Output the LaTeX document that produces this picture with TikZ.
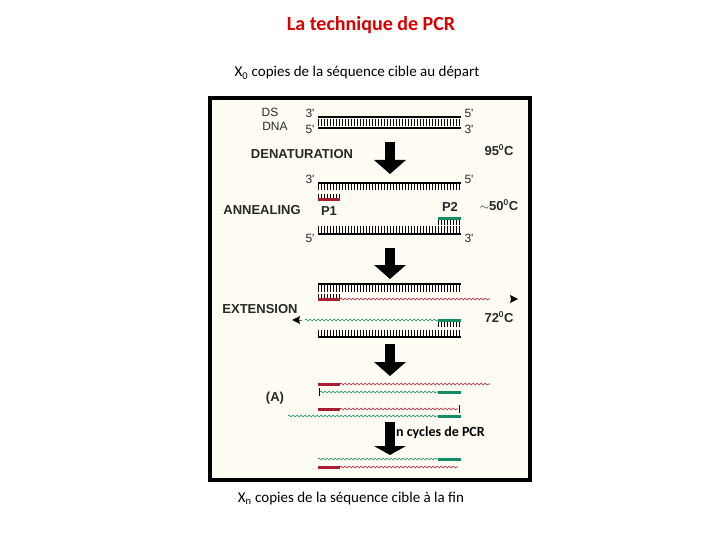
\documentclass[tikz,border=0pt]{standalone}
\usepackage{fontspec}
\setmainfont{Carlito}
\newfontfamily\arialf{Liberation Sans}
\usetikzlibrary{decorations.pathmorphing}
\definecolor{pred}{RGB}{170,30,50}
\definecolor{pgreen}{RGB}{20,140,100}
\definecolor{cream}{RGB}{255,253,243}
\definecolor{ink}{RGB}{40,40,40}
\tikzset{
 lab/.style={font=\arialf\bfseries\fontsize{13}{14}\selectfont, text=ink, inner sep=0pt},
 end/.style={font=\arialf\fontsize{12}{13}\selectfont, text=ink, inner sep=0pt},
 strand/.style={line width=1.6pt, black},
 ticks/.style={line width=7pt, dash pattern=on 1pt off 2pt, black},
 pticks/.style={line width=5pt, dash pattern=on 1pt off 2pt, black},
 rbar/.style={line width=3pt, pred},
 gbar/.style={line width=3pt, pgreen},
 rwave/.style={pred, line width=0.6pt, decorate, decoration={snake, amplitude=1pt, segment length=4pt}},
 gwave/.style={pgreen, line width=0.6pt, decorate, decoration={snake, amplitude=1pt, segment length=4pt}},
 txt/.style={font=\fontsize{15}{17}\selectfont, inner sep=0pt}
}
\newcommand{\downarrowat}[2]{%
 \fill (385,#1) rectangle (395,#2);
 \fill (374,#2) -- (406,#2) -- (390,#2+14) -- cycle;}
\begin{document}
\begin{tikzpicture}[x=1pt,y=-1pt]
\useasboundingbox (0,0) rectangle (720,540);
\fill[white] (0,0) rectangle (720,540);
\node[txt, text=red!85!black, font=\bfseries\fontsize{20}{22}\selectfont] (title) at (371,25) {La technique de PCR};
\node[txt] (top) at (357,73) {X\textsubscript{0} copies de la séquence cible au départ};
\node[txt] (bot) at (351,498) {X\textsubscript{n} copies de la séquence cible à la fin};
\draw[line width=4pt, fill=cream] (210,98) rectangle (530,480);
% DS DNA
\node[end] (ds) at (270,112) {DS};
\node[end] (dna) at (275,126) {DNA};
\node[end] at (310,113) {3'}; \node[end] at (469,113) {5'};
\node[end] at (310,129) {5'}; \node[end] at (469,129) {3'};
\draw[strand] (318,117) -- (461,117);
\draw[ticks] (318,122.5) -- (461,122.5);
\draw[strand] (318,128) -- (461,128);
% arrow 1
\downarrowat{142}{160}
\node[lab] at (302,154) {DENATURATION};
\node[lab] at (499,150) {95$^{\mathbf 0}$C};
% annealing
\node[end] at (310,179) {3'}; \node[end] at (469,179) {5'};
\draw[strand] (318,183) -- (461,183);
\draw[ticks] (318,187) -- (461,187);
\draw[pticks] (318,196.5) -- (340,196.5);
\draw[rbar] (318,200) -- (340,200);
\node[lab] at (262,210) {ANNEALING};
\node[lab] at (329,211) {P1};
\node[lab] at (450,207) {P2};
\node[lab] at (499,205) {$\sim$50$^{\mathbf 0}$C};
\draw[gbar] (438,219) -- (461,219);
\draw[pticks] (438,222.5) -- (461,222.5);
\draw[ticks] (318,230) -- (461,230);
\draw[strand] (318,234) -- (461,234);
\node[end] at (310,238) {5'}; \node[end] at (469,238) {3'};
% arrow 2
\downarrowat{248}{265}
% extension
\draw[strand] (318,284) -- (461,284);
\draw[ticks] (318,288) -- (461,288);
\draw[pticks] (318,296) -- (340,296);
\draw[rbar] (318,299) -- (340,299);
\draw[rwave] (340,299) -- (490,299);
\fill (518,299) -- (510,295) -- (511,299) -- (510,303) -- cycle;
\node[lab] at (260,309) {EXTENSION};
\draw[gwave] (305,320) -- (438,320);
\draw[gbar] (438,320) -- (461,320);
\draw[pgreen, line width=0.6pt] (296,320) -- (302,320);
\fill (292,320) -- (300,316) -- (299,320) -- (300,324) -- cycle;
\draw[pticks] (438,324) -- (461,324);
\node[lab] at (499,317) {72$^{\mathbf 0}$C};
\draw[ticks] (318,333) -- (461,333);
\draw[strand] (318,337) -- (461,337);
% arrow 3
\downarrowat{344}{362}
% (A)
\node[lab] at (275,398) {(A)};
\draw[rbar] (318,384) -- (340,384);
\draw[rwave] (340,384) -- (490,384);
\draw[line width=1pt] (319,388) -- (319,396);
\draw[gwave] (320,392) -- (438,392);
\draw[gbar] (438,392) -- (461,392);
\draw[rbar] (318,409) -- (340,409);
\draw[rwave] (340,409) -- (458,409);
\draw[line width=1pt] (459,405) -- (459,413);
\draw[gwave] (288,416) -- (438,416);
\draw[gbar] (438,416) -- (461,416);
% arrow 4
\fill (385,422) rectangle (395,446);
\fill (374,446) -- (406,446) -- (390,455) -- cycle;
\node[txt, anchor=west, font=\bfseries\fontsize{14}{16}\selectfont] (ncyc) at (396,433) {n cycles de PCR};
% final
\draw[gwave] (318,459) -- (438,459);
\draw[gbar] (438,459) -- (461,459);
\draw[rbar] (318,467) -- (340,467);
\draw[rwave] (340,467) -- (458,467);
\end{tikzpicture}
\end{document}
